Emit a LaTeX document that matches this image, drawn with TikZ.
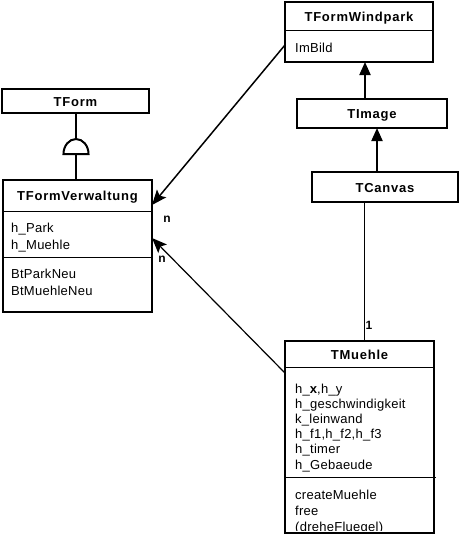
\documentclass[tikz,border=0pt]{standalone}
\usepackage{fontspec}
\setmainfont{Liberation Sans}
\newfontfamily\attrfont[LetterSpace=2]{Liberation Sans}
\newfontfamily\titlefont[LetterSpace=6]{Liberation Sans Bold}
\usetikzlibrary{arrows.meta}
\begin{document}
\begin{tikzpicture}[x=1pt,y=-1pt,
  box/.style={draw,line width=2pt,inner sep=0pt,outer sep=0pt,fill=white},
  sepline/.style={line width=1pt},
  title/.style={anchor=base,inner sep=0pt,font=\titlefont\fontsize{13}{15}\selectfont},
  attr/.style={anchor=base west,inner sep=0pt,font=\attrfont\fontsize{13}{15}\selectfont},
  mult/.style={anchor=base,inner sep=0pt,font=\titlefont\fontsize{12}{14}\selectfont},
  inherit/.style={line width=2pt,-{Triangle[length=13pt,width=11pt]}},
  assoc/.style={line width=1.5pt,-{Stealth[length=15pt,width=12pt,inset=3pt]}},
]
\useasboundingbox[fill=white] (0,0) rectangle (461,536);

% boxes
\node[box,minimum width=148pt,minimum height=60pt] (windpark) at (359,32) {};
\node[box,minimum width=150pt,minimum height=29pt] (timage) at (372,113.5) {};
\node[box,minimum width=146pt,minimum height=30pt] (tcanvas) at (385,187) {};
\node[box,minimum width=147pt,minimum height=24pt] (tform) at (75.5,101) {};
\node[box,minimum width=149pt,minimum height=132pt] (verw) at (77.5,246) {};
\node[box,minimum width=149pt,minimum height=192pt] (muehle) at (359.5,437) {};

% separators
\draw[sepline] (windpark.west |- 0,30) -- (windpark.east |- 0,30);
\draw[sepline] (verw.west |- 0,211) -- (verw.east |- 0,211);
\draw[sepline] (verw.west |- 0,257) -- (verw.east |- 0,257);
\draw[sepline] (muehle.west |- 0,367) -- (muehle.east |- 0,367);
\draw[sepline] (muehle.west |- 0,477) -- (436,477);

% titles
\node[title] (twindpark) at (359,21) {TFormWindpark};
\node[title] (timaget) at (372,118.5) {TImage};
\node[title] (tcanvast) at (385,192) {TCanvas};
\node[title] (tformt) at (75.5,106) {TForm};
\node[title] (verwt) at (77.5,200.5) {TFormVerwaltung};
\node[title] (muehlet) at (359.5,359) {TMuehle};

% attributes and methods
\node[attr] (imbild) at (295,52) {ImBild};
\node[attr] (hpark) at (11,232) {h\_Park};
\node[attr] (hmuehle) at (11,249) {h\_Muehle};
\node[attr] (btpark) at (11,278) {BtParkNeu};
\node[attr] (btmuehle) at (11,295) {BtMuehleNeu};
\begin{scope}
\clip (285,368) rectangle (434,530.5);
\node[attr] (hxy) at (295,393) {h\_{\titlefont x},h\_y};
\node[attr] (hgesch) at (295,408) {h\_geschwindigkeit};
\node[attr] (kleinw) at (295,423) {k\_leinwand};
\node[attr] (hf) at (295,438) {h\_f1,h\_f2,h\_f3};
\node[attr] (htimer) at (295,453) {h\_timer};
\node[attr] (hgeb) at (295,469) {h\_Gebaeude};
\node[attr] (create) at (295,499) {createMuehle};
\node[attr] (free) at (295,515) {free};
\node[attr] (drehe) at (295,531.5) {(dreheFluegel)};
\end{scope}

% inheritance
\draw[inherit] (timage.north -| 365,0) -- (windpark.south -| 365,0);
\draw[inherit] (tcanvas.north -| 377,0) -- (timage.south -| 377,0);
\draw[line width=2pt] (tform.south -| 76,0) -- (76,139);
\draw[line width=2pt] (verw.north -| 76,0) -- (76,154);
\draw[line width=2pt] (63.5,154) arc[start angle=180,end angle=0,x radius=12.5pt,y radius=15pt] -- cycle;

% associations
\draw[assoc] (windpark.west |- 0,45) -- (verw.east |- 0,205);
\draw[assoc,line width=1.2pt] (muehle.west |- 0,373) -- (verw.east |- 0,238);
\draw[line width=1pt] (tcanvas.south -| 364,0) -- (muehle.north -| 364,0);

% multiplicities
\node[mult] (n1) at (167,222) {n};
\node[mult] (n2) at (162,262) {n};
\node[mult] (one) at (369,329) {1};
\end{tikzpicture}
\end{document}
